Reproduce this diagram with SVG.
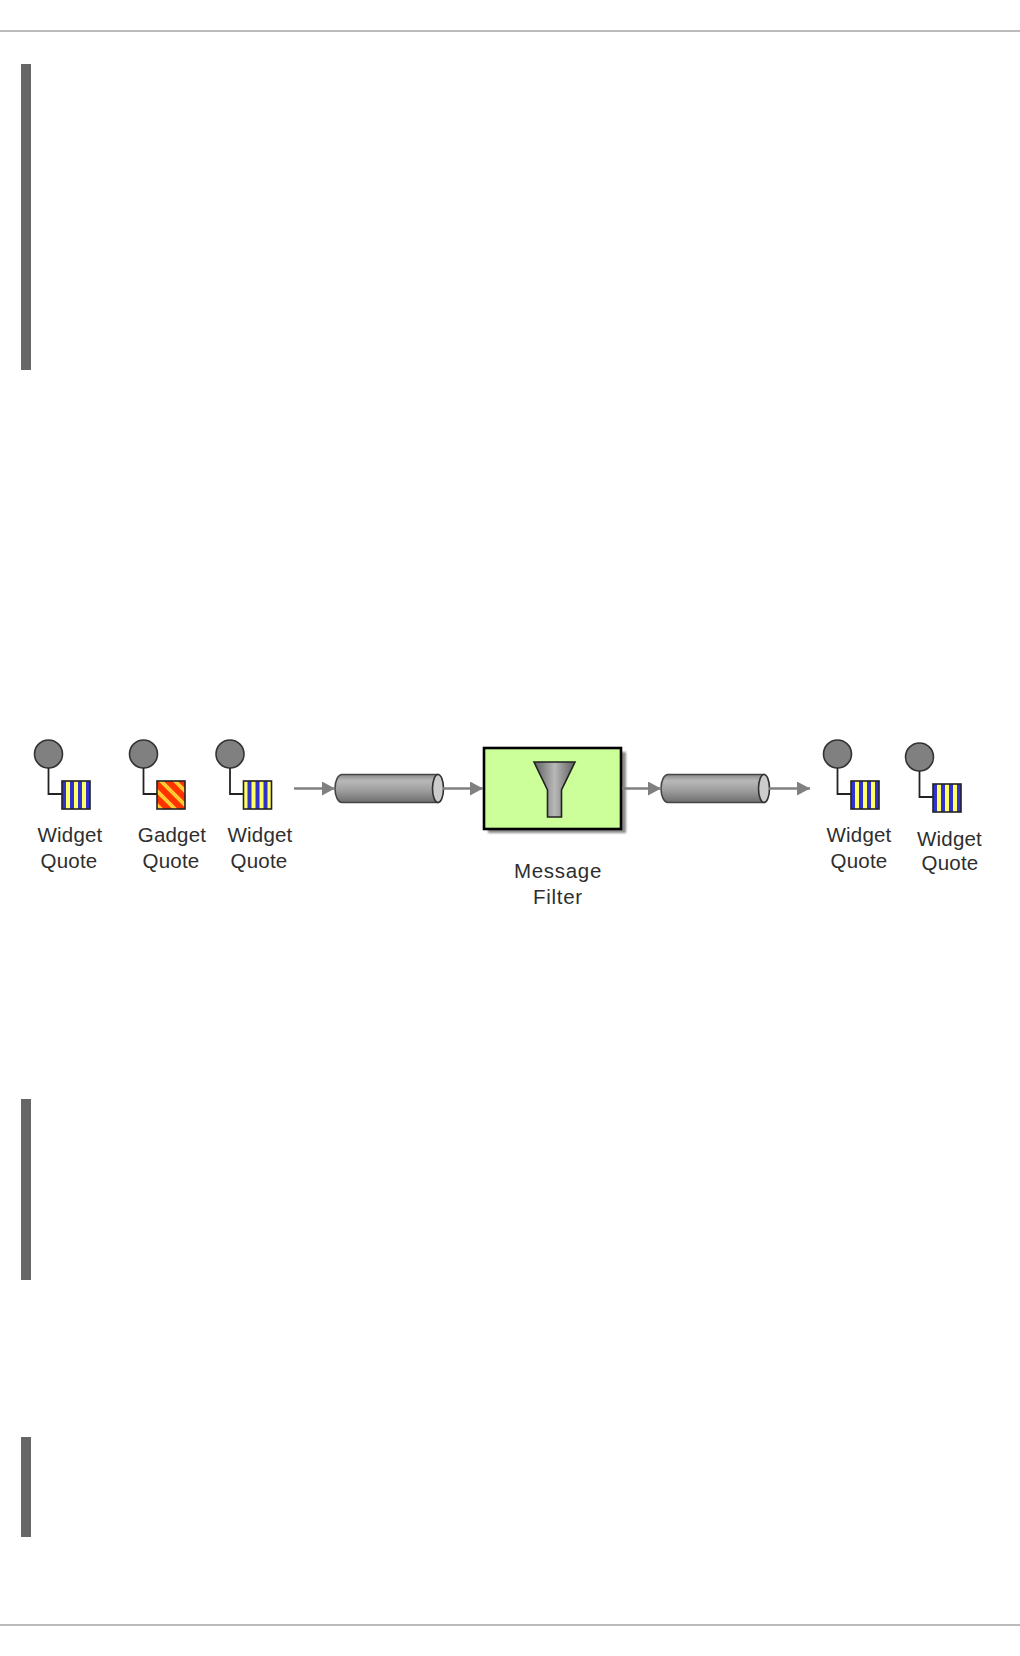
<svg xmlns="http://www.w3.org/2000/svg" width="1020" height="1656" viewBox="0 0 1020 1656">
<defs>
<linearGradient id="pipe" x1="0" y1="0" x2="0" y2="1"><stop offset="0" stop-color="#8a8a8a"/><stop offset="0.22" stop-color="#b8b8b8"/><stop offset="0.55" stop-color="#a0a0a0"/><stop offset="1" stop-color="#6e6e6e"/></linearGradient>
<linearGradient id="fun" x1="0" y1="0" x2="1" y2="0"><stop offset="0" stop-color="#5e5e5e"/><stop offset="0.5" stop-color="#b8b8b8"/><stop offset="1" stop-color="#5e5e5e"/></linearGradient>
<filter id="soft" filterUnits="userSpaceOnUse" x="0" y="700" width="1020" height="200"><feGaussianBlur stdDeviation="0.45"/></filter>
<filter id="sh" x="-5%" y="-5%" width="110%" height="110%"><feGaussianBlur stdDeviation="1"/></filter>
<marker id="arr" markerUnits="userSpaceOnUse" markerWidth="13" markerHeight="14" refX="13" refY="7" orient="auto"><path d="M0 0L13 7L0 14Z" fill="#808080"/></marker>
<clipPath id="gc"><rect x="0" y="0" width="28" height="28"/></clipPath>
<g id="stem"><circle cx="0" cy="0" r="14" fill="#808080" stroke="#333" stroke-width="1.6"/><path d="M0 14V40H14" fill="none" stroke="#222" stroke-width="1.8"/></g>
<g id="w"><rect width="28" height="28" fill="#ffff66"/><path d="M4 0h4v28h-4zM12 0h4v28h-4zM20 0h4v28h-4z" fill="#3333cc"/><rect width="28" height="28" fill="none" stroke="#222" stroke-width="1.6"/></g>
<g id="w2"><rect width="28" height="28" fill="#3333cc"/><path d="M4 0h4v28h-4zM12 0h4v28h-4zM20 0h4v28h-4z" fill="#ffff66"/><rect width="28" height="28" fill="none" stroke="#222" stroke-width="1.6"/></g>
<g id="g"><rect width="28" height="28" fill="#ff3300"/><g clip-path="url(#gc)"><path d="M2 -2L32 28M16 -2L32 14M-2 8L22 32M-2 22L8 32" stroke="#ffcc33" stroke-width="3.800" fill="none"/></g><rect width="28" height="28" fill="none" stroke="#222" stroke-width="1.6"/></g>
</defs>
<style>
.t{font-family:"Liberation Sans",Arial,sans-serif;font-size:20.500px;letter-spacing:.2px;fill:#2e2e2e;text-anchor:middle}
.m{letter-spacing:.7px}
.b{fill:#666}
.r{fill:#bbb}
.c{fill:none;stroke:#808080;stroke-width:2.4;marker-end:url(#arr)}
.p{fill:url(#pipe);stroke:#444;stroke-width:1.6}
.e{fill:#ccc;stroke:#333;stroke-width:1.6}
</style>
<rect width="1020" height="1656" fill="#fff"/>
<rect class="r" x="0" y="30" width="1020" height="2"/>
<rect class="r" x="0" y="1624" width="1020" height="2"/>
<rect class="b" x="21" y="64" width="10" height="306"/>
<rect class="b" x="21" y="1099" width="10" height="181"/>
<rect class="b" x="21" y="1437" width="10" height="100"/>
<g id="q1"><g filter="url(#soft)"><use href="#stem" x="48.500" y="754"/><use href="#w2" x="62" y="781"/></g><text class="t" x="70" y="842">Widget</text><text class="t" x="69" y="868">Quote</text></g>
<g id="q2"><g filter="url(#soft)"><use href="#stem" x="143.500" y="754"/><use href="#g" x="157" y="781"/></g><text class="t" x="172" y="842">Gadget</text><text class="t" x="171" y="868">Quote</text></g>
<g id="q3"><g filter="url(#soft)"><use href="#stem" x="230" y="754"/><use href="#w" x="243.500" y="781"/></g><text class="t" x="260" y="842">Widget</text><text class="t" x="259" y="868">Quote</text></g>
<g id="pipe1" filter="url(#soft)"><path class="p" d="M342 774.500H438V802.500H342A7 14 0 0 1 342 774.500Z"/><ellipse class="e" cx="438" cy="788.500" rx="5.500" ry="14"/></g>
<g id="filter"><rect x="488" y="752" width="138" height="81" fill="#8a8a8a" filter="url(#sh)"/><g filter="url(#soft)"><rect x="484" y="748" width="137" height="81" fill="#ccff99" stroke="#000" stroke-width="2.600"/><path d="M534 762H575L561.500 790V817H547.500V790Z" fill="url(#fun)" stroke="#222" stroke-width="1.600"/></g><text class="t m" x="558" y="878">Message</text><text class="t m" x="558" y="904">Filter</text></g>
<g id="pipe2" filter="url(#soft)"><path class="p" d="M668 774.500H764V802.500H668A7 14 0 0 1 668 774.500Z"/><ellipse class="e" cx="764" cy="788.500" rx="5.500" ry="14"/></g>
<g id="q4"><g filter="url(#soft)"><use href="#stem" x="837.500" y="754"/><use href="#w2" x="851" y="781"/></g><text class="t" x="859" y="842">Widget</text><text class="t" x="859" y="868">Quote</text></g>
<g id="q5"><g filter="url(#soft)"><use href="#stem" x="919.500" y="757"/><use href="#w2" x="933" y="784"/></g><text class="t" x="949.500" y="846">Widget</text><text class="t" x="950" y="870">Quote</text></g>
<g id="connectors" filter="url(#soft)">
<path class="c" d="M294 788.500H335"/>
<path class="c" d="M443 788.500H483"/>
<path class="c" d="M622 788.500H661"/>
<path class="c" d="M769 788.500H810"/>
</g>
</svg>
